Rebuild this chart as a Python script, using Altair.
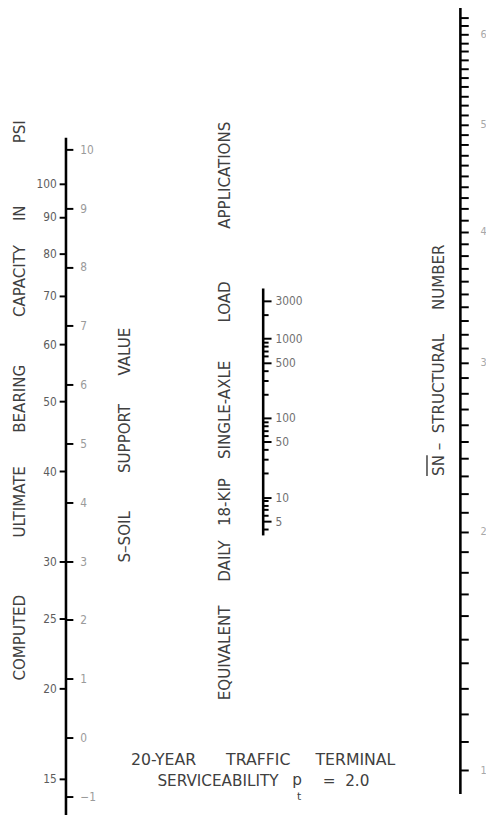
import altair as alt
import pandas as pd

# ---------------- data ----------------
cbr_values = [15, 20, 25, 30, 40, 50, 60, 70, 80, 90, 100]
s_ticks = [-1, -0.5, 0, 0.5, 1, 1.5, 2, 2.5, 3, 3.5, 4, 4.5, 5, 5.5, 6, 6.5,
           7, 7.5, 8, 8.5, 9, 9.5, 10]
s_labels = [-1, 0, 1, 2, 3, 4, 5, 6, 7, 8, 9, 10]
traffic_labels = [5, 10, 50, 100, 500, 1000, 3000]
traffic_minor = [4, 6, 7, 8, 9, 20, 30, 40, 60, 70, 80, 90,
                 200, 300, 400, 600, 700, 800, 900, 2000]
sn_ticks = [1.0, 1.1, 1.2, 1.3, 1.4, 1.5, 1.6, 1.7, 1.8, 1.9,
            2.0, 2.1, 2.2, 2.3, 2.4, 2.5, 2.6, 2.7, 2.8, 2.9,
            3.0, 3.1, 3.2, 3.3, 3.4, 3.5, 3.6, 3.7, 3.8, 3.9,
            4.0, 4.1, 4.2, 4.3, 4.4, 4.5, 4.6, 4.7, 4.8, 4.9,
            5.0, 5.1, 5.2, 5.3, 5.4, 5.5, 5.6, 5.7, 5.8, 5.9,
            6.0, 6.1, 6.2]
sn_labels = [1, 2, 3, 4, 5, 6]

# extent of each drawn scale line, in the units of its own scale
s_line = [10.2, -1.6]
traffic_line = [4300, 3.3]
sn_line = [6.4, 0.92]

W, H = 486, 807
NUM_FONT = "DejaVu Sans Condensed, Liberation Sans Narrow, sans-serif"
TITLE_FONT = "DejaVu Sans Condensed, Liberation Sans Narrow, sans-serif"
BOTTOM_FONT = "DejaVu Sans, sans-serif"
TITLE_SIZE = 17
TITLE_COLOR = "#404040"

xscale = alt.Scale(domain=[-0.294, 2.1299], nice=False, zero=False)


def base_axis(**kw):
    d = dict(title=None, grid=False, domain=False, tickColor="black", tickWidth=2,
             labelFont=NUM_FONT, labelOverlap=False, labelBound=False,
             labelFlush=False, labelBaseline="middle")
    d.update(kw)
    return alt.Axis(**d)


# ---- CBR (left ticks) ----
cbr_df = pd.DataFrame({"cbr": cbr_values})
cbr_layer = alt.Chart(cbr_df).mark_point(opacity=0).encode(
    x=alt.value(59),
    y=alt.Y("cbr:Q",
            scale=alt.Scale(type="log", domain=[13.65, 171.6], nice=False),
            axis=base_axis(orient="left", offset=-59, values=cbr_values, format="d",
                           tickSize=7, labelPadding=3, labelFontSize=12,
                           labelColor="#5c5c5c")),
)

# ---- Soil support value (right ticks) + main line ----
s_df = pd.DataFrame({"col": [0], "top": [s_line[0]], "bot": [s_line[1]]})
s_layer = alt.Chart(s_df).mark_rule(color="black", strokeWidth=2.6).encode(
    x=alt.X("col:Q", scale=xscale, axis=None),
    y=alt.Y("top:Q",
            scale=alt.Scale(domain=[-1.204, 12.291], nice=False, zero=False),
            axis=base_axis(orient="right", offset=-427.05, values=s_ticks, format="d",
                           labelExpr="datum.value % 1 === 0 ? datum.label : ''",
                           tickSize=7, labelPadding=7, labelFontSize=12,
                           labelColor="#9a9a9a")),
    y2="bot:Q",
)

# ---- Traffic ----
traffic_all = sorted(traffic_labels + traffic_minor)
major_expr = "indexof([" + ",".join(str(v) for v in traffic_labels) + "], datum.value) >= 0"
t_df = pd.DataFrame({"col": [1], "top": [traffic_line[0]], "bot": [traffic_line[1]]})
t_layer = alt.Chart(t_df).mark_rule(color="black", strokeWidth=2.6).encode(
    x=alt.X("col:Q", scale=xscale, axis=None),
    y=alt.Y("top:Q",
            scale=alt.Scale(type="log", domain=[0.00119, 1.2246e7], nice=False),
            axis=base_axis(orient="right", offset=-226.55, values=traffic_all, format="d",
                           labelExpr=major_expr + " ? datum.label : ''",
                           tickSize={"condition": {"test": major_expr, "value": 8}, "value": 5},
                           labelPadding=4, labelFontSize=12, labelColor="#707070")),
    y2="bot:Q",
)

# ---- Structural number ----
sn_df = pd.DataFrame({"col": [2], "top": [sn_line[0]], "bot": [sn_line[1]]})
sn_int = "abs(datum.value - round(datum.value)) < 0.001"
sn_layer = alt.Chart(sn_df).mark_rule(color="black", strokeWidth=2.6).encode(
    x=alt.X("col:Q", scale=xscale, axis=None),
    y=alt.Y("top:Q",
            scale=alt.Scale(type="symlog", constant=1, domain=[0.874, 6.238], nice=False,
                            zero=False),
            axis=base_axis(orient="right", offset=-26.04, values=sn_ticks, format=".0f",
                           labelExpr=sn_int + " ? datum.label : ''",
                           tickSize=8, labelPadding=12, labelFontSize=11,
                           labelColor="#a8a8a8")),
    y2="bot:Q",
)

# ---------------- titles ----------------
G = "\u00a0"


def spaced(words, gaps):
    out = words[0]
    for w, g in zip(words[1:], gaps):
        out += G * g + w
    return out


left_title = spaced(["COMPUTED", "ULTIMATE", "BEARING", "CAPACITY", "IN", "PSI"],
                    [12, 7, 10, 5, 13])
s_title = spaced(["S\u2013SOIL", "SUPPORT", "VALUE"], [8, 6])
traffic_title = spaced(["EQUIVALENT", "DAILY", "18-KIP", "SINGLE-AXLE", "LOAD",
                        "APPLICATIONS"], [5, 3, 4, 8, 11])
sn_title = "SN" + G + "\u2013" + G * 2 + "STRUCTURAL" + G * 5 + "NUMBER"
bottom1 = spaced(["20-YEAR", "TRAFFIC", "TERMINAL"], [6, 5])

one = pd.DataFrame({"k": [0]})


def vtext(txt, x, y):
    return alt.Chart(one).mark_text(
        text=txt, angle=270, align="left", baseline="middle", font=TITLE_FONT,
        fontSize=TITLE_SIZE, color=TITLE_COLOR
    ).encode(x=alt.value(x), y=alt.value(y))


def htext(txt, x, y, size=16, align="center"):
    return alt.Chart(one).mark_text(
        text=txt, align=align, baseline="middle", font=BOTTOM_FONT,
        fontSize=size, color=TITLE_COLOR
    ).encode(x=alt.value(x), y=alt.value(y))


titles = [
    vtext(left_title, 12, 677),
    vtext(s_title, 119, 557),
    vtext(traffic_title, 221, 697),
    vtext(sn_title, 438, 469),
    htext(bottom1, 259.5, 758),
    htext("SERVICEABILITY", 213.5, 779, size=15.5),
    htext("p", 294, 778, size=15.5),
    htext("t", 296, 795, size=11),
    htext("=" + G + G + "2.0", 320, 779, size=15.5, align="left"),
]

overline = alt.Chart(one).mark_rule(color=TITLE_COLOR, strokeWidth=1.5).encode(
    x=alt.value(426), y=alt.value(469), y2=alt.value(448)
)

chart = alt.layer(cbr_layer, s_layer, t_layer, sn_layer, *titles, overline).resolve_scale(
    y="independent"
).properties(
    width=W, height=H, padding=0, autosize=alt.AutoSizeParams(type="none"),
    background="white"
).configure_view(stroke=None)

chart.save("out.html", embed_options={"renderer": "svg", "actions": False})
